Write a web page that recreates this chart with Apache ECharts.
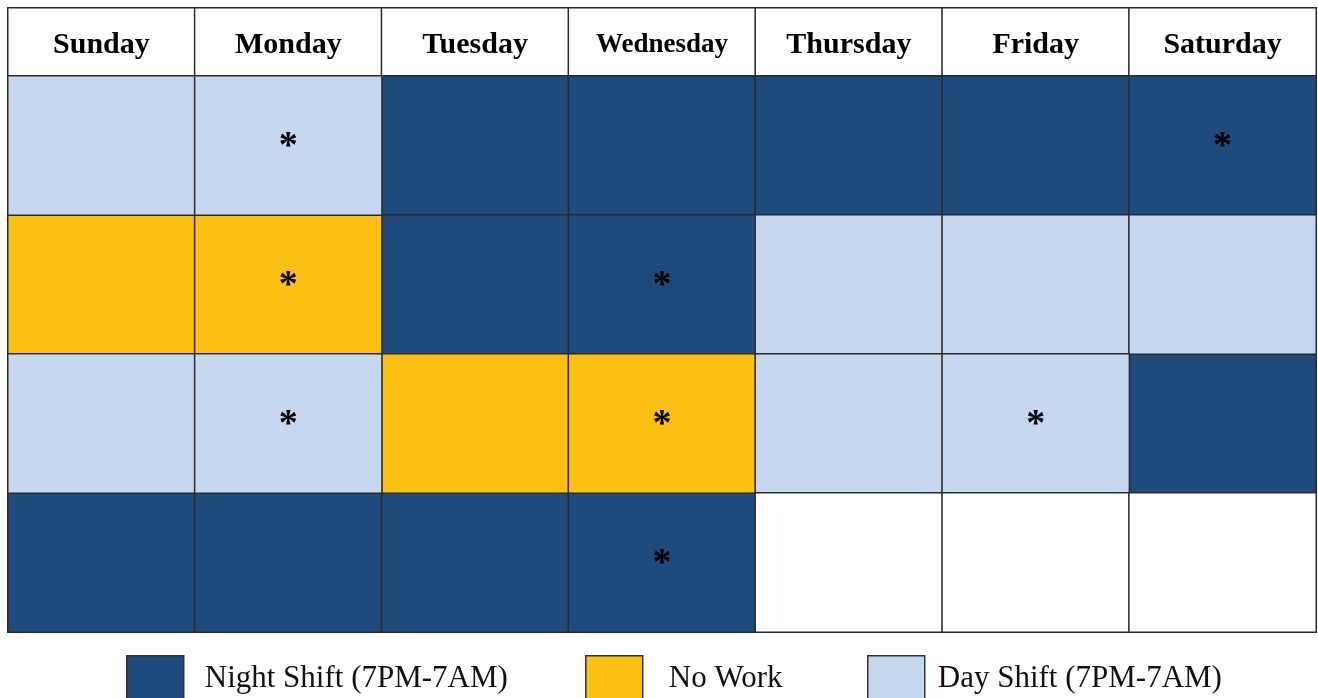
<!DOCTYPE html>
<html>
<head>
<meta charset="utf-8">
<title>Shift schedule</title>
<script src="https://cdn.jsdelivr.net/npm/echarts@6/dist/echarts.min.js"></script>
<style>
  html, body { margin: 0; padding: 0; background: #fff; }
  #chart { width: 1318px; height: 698px; }
</style>
</head>
<body>
<div id="chart"></div>
<script>
// data
const days = ['Sunday', 'Monday', 'Tuesday', 'Wednesday', 'Thursday', 'Friday', 'Saturday']
const weeks = ['1', '2', '3', '4']
// N = night shift, O = no work, D = day shift, '' = no entry
const shifts = [
  ['D', 'D', 'N', 'N', 'N', 'N', 'N'],
  ['O', 'O', 'N', 'N', 'D', 'D', 'D'],
  ['D', 'D', 'O', 'O', 'D', 'D', 'N'],
  ['N', 'N', 'N', 'N', '', '', '']
]
const marks = [
  [0, 1, 0, 0, 0, 0, 1],
  [0, 1, 0, 1, 0, 0, 0],
  [0, 1, 0, 1, 0, 1, 0],
  [0, 0, 0, 1, 0, 0, 0]
]
const legendNames = {
  N: 'Night Shift (7PM-7AM)',
  O: 'No Work',
  D: 'Day Shift (7PM-7AM)'
}

const colors = { N: '#1F4A7C', O: '#FCBF13', D: '#C6D8F0', '': '#FFFFFF' }
const serif = '"Liberation Serif", "DejaVu Serif", serif'

const chart = echarts.init(document.getElementById('chart'))

const cellsFor = (code) => {
  const out = []
  shifts.forEach((row, r) => {
    row.forEach((s, c) => {
      if (s === code) out.push([c, r, marks[r][c]])
    })
  })
  return out
}

const cellSeries = (code, name) => ({
  name: name,
  type: 'heatmap',
  xAxisIndex: 1,
  yAxisIndex: 1,
  data: cellsFor(code),
  itemStyle: { color: colors[code], borderColor: '#2a2a2a', borderWidth: 1.5 },
  label: {
    show: true,
    formatter: (p) => (p.data[2] ? '*' : ''),
    color: '#000',
    fontFamily: serif,
    fontWeight: 'bold',
    fontSize: 38,
    offset: [0, 2]
  },
  emphasis: { disabled: true }
})

const legendFor = (code, left, gap) => ({
  data: [legendNames[code]],
  left: left,
  top: 650,
  orient: 'horizontal',
  icon: 'rect',
  itemWidth: 57,
  itemHeight: 46,
  selectedMode: false,
  itemStyle: { borderColor: '#333', borderWidth: 1.5 },
  textStyle: {
    fontFamily: serif,
    fontSize: 31,
    color: '#111',
    padding: [0, 0, 0, gap]
  }
})

chart.setOption({
  animation: false,
  grid: [
    { left: 8, right: 2, top: 8, height: 68 },
    { left: 8, right: 2, top: 76, height: 556 }
  ],
  xAxis: [
    { type: 'category', gridIndex: 0, data: days, show: false },
    { type: 'category', gridIndex: 1, data: days, show: false }
  ],
  yAxis: [
    { type: 'category', gridIndex: 0, data: ['head'], show: false },
    { type: 'category', gridIndex: 1, data: weeks, inverse: true, show: false }
  ],
  legend: [
    legendFor('N', 121, 16),
    legendFor('O', 580, 21),
    legendFor('D', 862, 8)
  ],
  series: [
    {
      name: 'header',
      type: 'heatmap',
      xAxisIndex: 0,
      yAxisIndex: 0,
      data: days.map((d, i) => ({
        value: [i, 0, 0],
        label: d === 'Wednesday' ? { fontSize: 27 } : {}
      })),
      itemStyle: { color: '#fff', borderColor: '#2a2a2a', borderWidth: 1.5 },
      label: {
        show: true,
        formatter: (p) => days[p.data.value[0]],
        color: '#000',
        fontFamily: serif,
        fontWeight: 'bold',
        fontSize: 30,
        offset: [0, 3]
      },
      emphasis: { disabled: true }
    },
    cellSeries('N', legendNames.N),
    cellSeries('O', legendNames.O),
    cellSeries('D', legendNames.D),
    cellSeries('', 'empty')
  ]
})
</script>
</body>
</html>
